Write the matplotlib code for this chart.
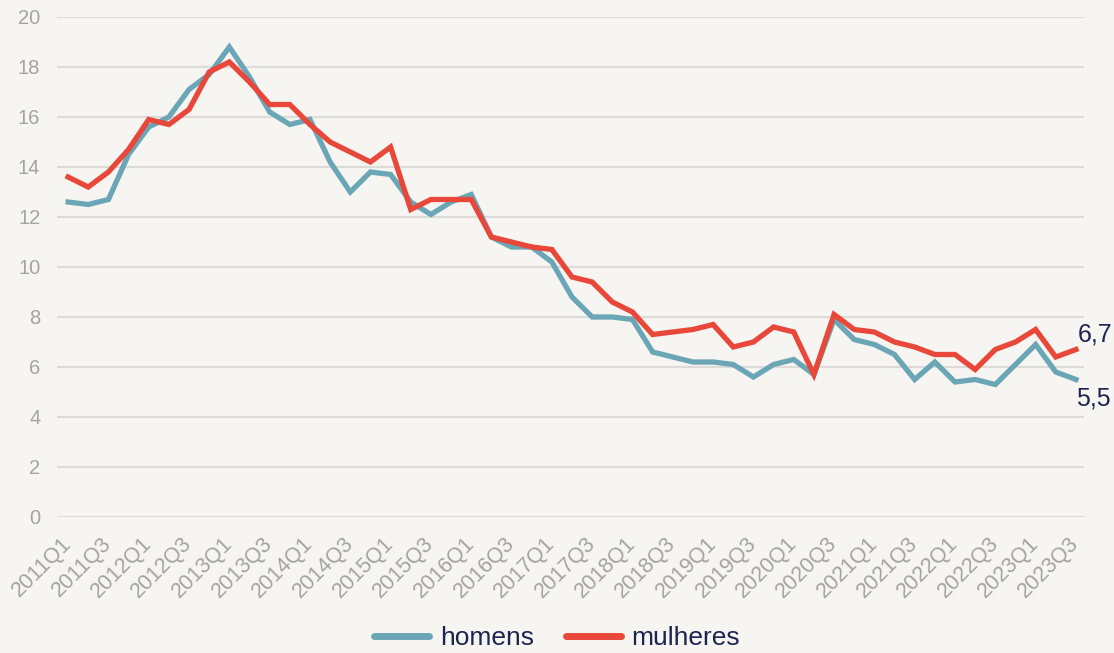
import matplotlib
matplotlib.use("Agg")
import matplotlib.pyplot as plt

years = list(range(2011, 2024))
quarters = [f"{y}Q{q}" for y in years for q in (1, 2, 3, 4)][:51]

homens = [12.6, 12.5, 12.7, 14.5, 15.6, 16.0, 17.1, 17.7, 18.8, 17.6,
          16.2, 15.7, 15.9, 14.2, 13.0, 13.8, 13.7, 12.6, 12.1, 12.6,
          12.9, 11.2, 10.8, 10.8, 10.2, 8.8, 8.0, 8.0, 7.9, 6.6,
          6.4, 6.2, 6.2, 6.1, 5.6, 6.1, 6.3, 5.7, 7.9, 7.1,
          6.9, 6.5, 5.5, 6.2, 5.4, 5.5, 5.3, 6.1, 6.9, 5.8, 5.5]

mulheres = [13.6, 13.2, 13.8, 14.7, 15.9, 15.7, 16.3, 17.8, 18.2, 17.4,
            16.5, 16.5, 15.7, 15.0, 14.6, 14.2, 14.8, 12.3, 12.7, 12.7,
            12.7, 11.2, 11.0, 10.8, 10.7, 9.6, 9.4, 8.6, 8.2, 7.3,
            7.4, 7.5, 7.7, 6.8, 7.0, 7.6, 7.4, 5.7, 8.1, 7.5,
            7.4, 7.0, 6.8, 6.5, 6.5, 5.9, 6.7, 7.0, 7.5, 6.4, 6.7]

yticks = list(range(0, 21, 2))

BG = "#f6f5f1"
TEAL = "#6aa6b5"
RED = "#e8473a"
NAVY = "#1c2550"
GRAY = "#a3a3a3"

plt.rcParams["font.family"] = ["Liberation Sans", "DejaVu Sans"]

fig = plt.figure(figsize=(11.14, 6.53), dpi=100, facecolor=BG)
ax = fig.add_axes([57 / 1114, 1 - 517 / 653, (1084 - 57) / 1114, 500 / 653])
ax.set_facecolor(BG)

x = list(range(len(quarters)))
ax.plot(x, homens, color=TEAL, lw=3.8, label="homens", solid_joinstyle="miter", zorder=3)
ax.plot(x, mulheres, color=RED, lw=3.8, label="mulheres", solid_joinstyle="miter", zorder=4)

ax.set_ylim(0, 20)
ax.set_xlim(-0.55, 50.4)
ax.set_yticks(yticks)
ax.set_yticklabels([str(v) for v in yticks])
ax.grid(axis="y", color="#dcdbd8", lw=1.5, zorder=0)
ax.grid(axis="x", visible=False)
for s in ax.spines.values():
    s.set_visible(False)

ax.set_xticks(x[::2])
ax.set_xticklabels(quarters[::2], rotation=45, ha="right", va="center",
                   rotation_mode="anchor")
ax.tick_params(axis="both", length=0, colors=GRAY)
ax.tick_params(axis="x", pad=17, labelsize=15.5)
ax.tick_params(axis="y", pad=12, labelsize=14.5)

ax.annotate(f"{mulheres[-1]:.1f}".replace(".", ","), (x[-1], mulheres[-1]),
            xytext=(1.5, 11), textcoords="offset points", fontsize=18,
            color=NAVY, ha="left", va="center", annotation_clip=False)
ax.annotate(f"{homens[-1]:.1f}".replace(".", ","), (x[-1], homens[-1]),
            xytext=(0, -14), textcoords="offset points", fontsize=18,
            color=NAVY, ha="left", va="center", annotation_clip=False)

leg = fig.legend(loc="center", bbox_to_anchor=(0.5, 1 - 638 / 653), ncol=2,
                 frameon=False, fontsize=19, handlelength=2.1, handletextpad=0.4,
                 columnspacing=1.2, labelcolor=NAVY)
for h in leg.get_lines():
    h.set_linewidth(5)
    h.set_solid_capstyle("round")

fig.savefig("out.png", dpi=100, facecolor=BG)
